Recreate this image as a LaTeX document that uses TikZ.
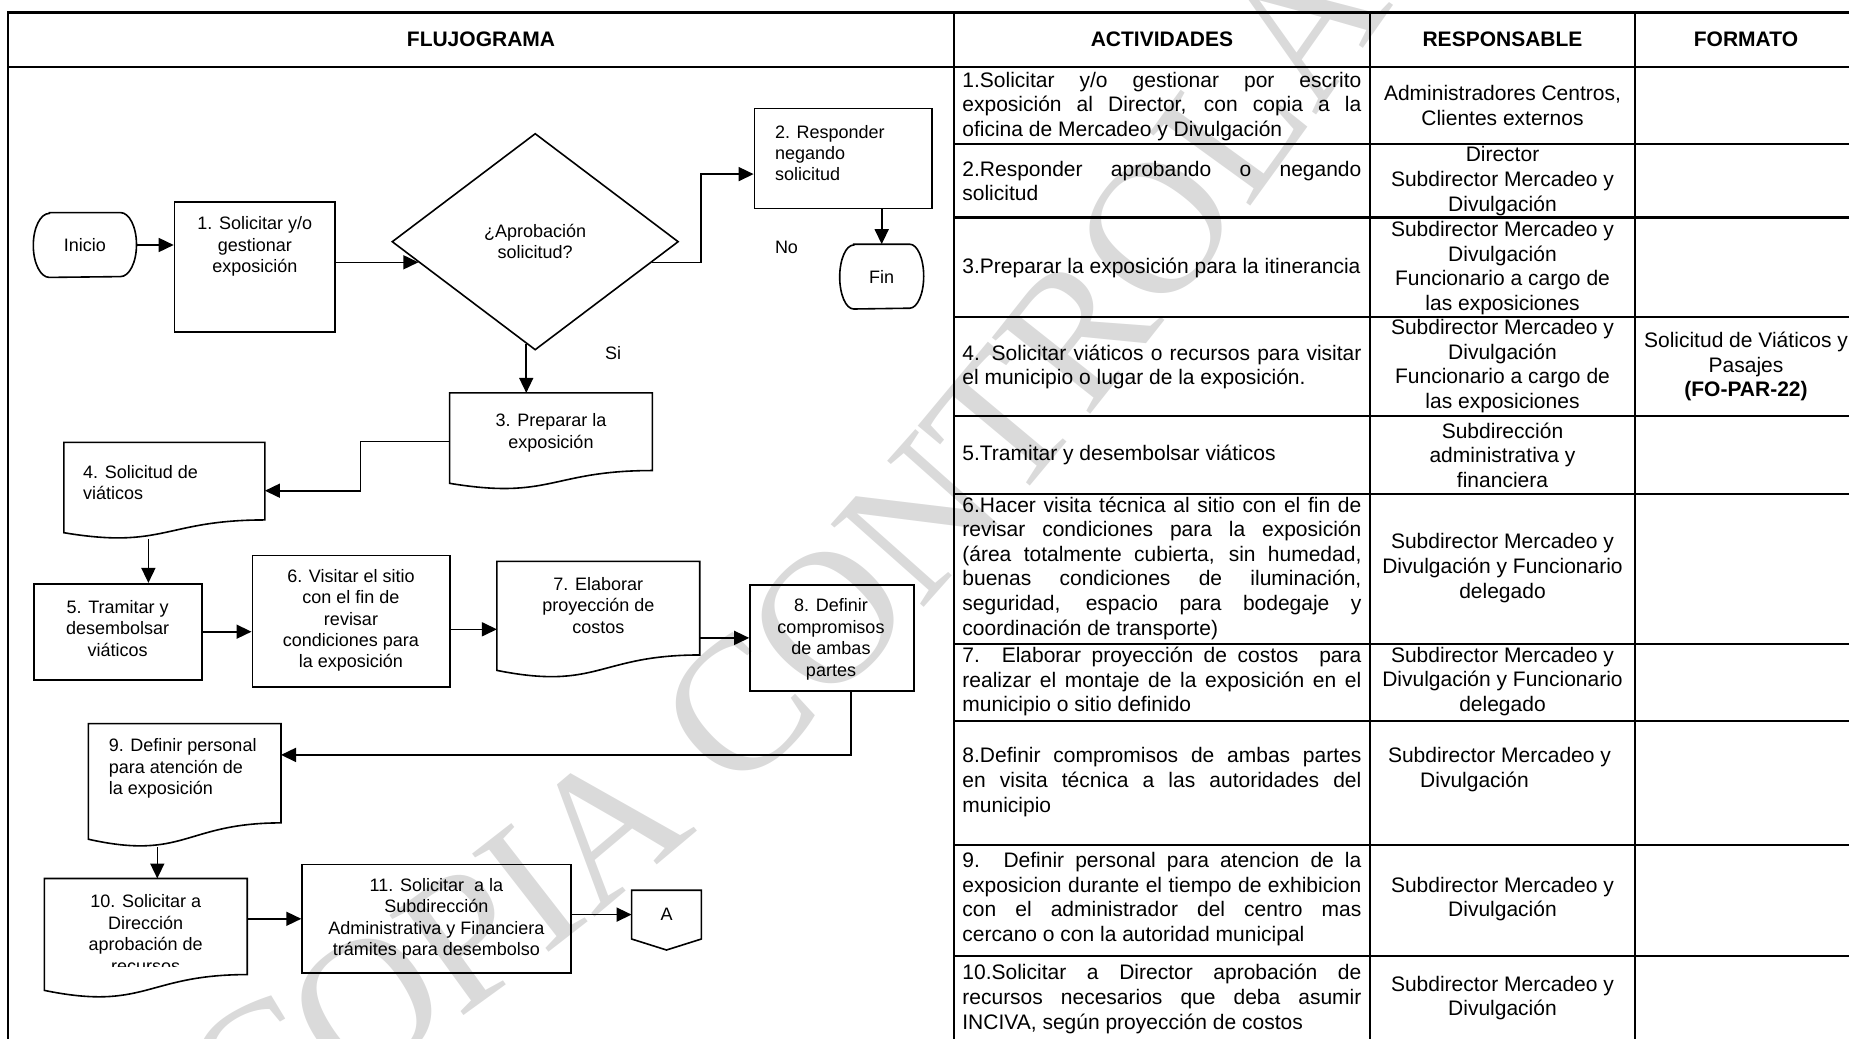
\documentclass[tikz,border=0pt]{standalone}
\usepackage{fontspec}
\setmainfont{Liberation Sans}
\newfontfamily\marcafont{Liberation Serif}
\usepackage{tikz}
\usetikzlibrary{shapes, arrows.meta, positioning, calc, decorations.text}
\definecolor{MarcaGris}{RGB}{218, 218, 218}
\tolerance=10000
\hbadness=10000
\hyphenpenalty=10000

\tikzset{
  tabla/.style={line width=1.1pt},
  encab/.style={font=\fontsize{10.5}{12.3}\selectfont\bfseries},
  activ/.style={font=\fontsize{10.5}{12.3}\selectfont, text width=199.5pt, align=justify, inner sep=0pt, anchor=west},
  resp/.style={font=\fontsize{10.5}{12.3}\selectfont, align=center, inner sep=0pt},
  caja/.style={draw, line width=0.8pt, inner sep=0pt},
  hueco/.style={inner sep=0pt, font=\fontsize{9}{10.7}\selectfont},
  txt/.style={font=\fontsize{9}{10.7}\selectfont, inner sep=0pt, align=center},
  flecha/.style={line width=0.8pt, -{Triangle[length=7.5pt,width=7pt]}},
}

\begin{document}
\begin{tikzpicture}[x=0.5pt, y=-0.5pt]
    \useasboundingbox (0,0) rectangle (1849,1039);
    \clip (0,0) rectangle (1849,1039);

    % Marca de agua
    \path[decorate, decoration={text along path, text align=center, text color=MarcaGris,
        text={|\marcafont\fontsize{95}{95}\selectfont|COPIA CONTROLADA}}]
        (150,1200) .. controls (800,880) and (1180,330) .. (1600,-300);

    % Tabla
    \draw[tabla] (8,12.5) rectangle (1857,1045);
    \draw[tabla] (8,67) -- (1857,67);
    \foreach \x in {954,1370,1635} \draw[tabla] (\x,12.5) -- (\x,1045);
    \foreach \y in {144,217.5,317,416,494,644,721,845,956} \draw[tabla] (954,\y) -- (1857,\y);

    % Encabezados
    \node[encab] (hflujo) at (481,39.5) {FLUJOGRAMA};
    \node[encab] (hactiv) at (1162,39.5) {ACTIVIDADES};
    \node[encab] (hresp) at (1502.5,39.5) {RESPONSABLE};
    \node[encab] (hform) at (1746,39.5) {FORMATO};

    % Actividades
    \node[activ] (a1) at (962,106.5) {1.Solicitar y/o gestionar por escrito\linebreak exposición al Director, con copia a la\linebreak oficina de Mercadeo y Divulgación};
    \node[activ] (a2) at (962,181) {2.Responder aprobando o negando\linebreak solicitud};
    \node[activ] (a3) at (962,268) {3.Preparar la exposición para la itinerancia};
    \node[activ] (a4) at (962,367) {4. Solicitar viáticos o recursos para visitar\linebreak el municipio o lugar de la exposición.};
    \node[activ] (a5) at (962,455) {5.Tramitar y desembolsar viáticos};
    \node[activ] (a6) at (962,568) {6.Hacer visita técnica al sitio con el fin de\linebreak revisar condiciones para la exposición\linebreak (área totalmente cubierta, sin humedad,\linebreak buenas condiciones de iluminación,\linebreak seguridad, espacio para bodegaje y\linebreak coordinación de transporte)};
    \node[activ] (a7) at (962,681.5) {7. Elaborar proyección de costos\ \ para\linebreak realizar el montaje de la exposición en el\linebreak municipio o sitio definido};
    \node[activ] (a8) at (962,782) {8.Definir compromisos de ambas partes\linebreak en visita técnica a las autoridades del\linebreak municipio};
    \node[activ] (a9) at (962,899) {9. Definir personal para atencion de la\linebreak exposicion durante el tiempo de exhibicion\linebreak con el administrador del centro mas\linebreak cercano o con la autoridad municipal};
    \node[activ] (a10) at (962,999) {10.Solicitar a Director aprobación de\linebreak recursos necesarios que deba asumir\linebreak INCIVA, según proyección de costos};

    % Responsables
    \node[resp] (r1) at (1502.5,105.5) {Administradores Centros,\\Clientes externos};
    \node[resp] (r2) at (1502.5,181) {Director\\Subdirector Mercadeo y\\Divulgación};
    \node[resp] (r3) at (1502.5,268) {Subdirector Mercadeo y\\Divulgación\\Funcionario a cargo de\\las exposiciones};
    \node[resp] (r4) at (1502.5,366) {Subdirector Mercadeo y\\Divulgación\\Funcionario a cargo de\\las exposiciones};
    \node[resp] (r5) at (1502.5,455) {Subdirección\\administrativa y\\financiera};
    \node[resp] (r6) at (1502.5,568) {Subdirector Mercadeo y\\Divulgación y Funcionario\\delegado};
    \node[resp] (r7) at (1502.5,681.5) {Subdirector Mercadeo y\\Divulgación y Funcionario\\delegado};
    \node[resp] (r8) at (1499.5,769.5) {Subdirector Mercadeo y\\Divulgación\hspace*{25pt}};
    \node[resp] (r9) at (1502.5,899) {Subdirector Mercadeo y\\Divulgación};
    \node[resp] (r10) at (1502.5,998) {Subdirector Mercadeo y\\Divulgación};

    % Formato
    \node[resp] (f4) at (1746,366.5) {Solicitud de Viáticos y\\Pasajes\\\textbf{(FO-PAR-22)}};

    % Flujograma
    \node[hueco, minimum width=51.2pt, minimum height=32pt] (ini) at (84.9,245) {Inicio};
    \node[caja, minimum width=80.3pt, minimum height=65pt] (b1) at (254.8,266.7) {};
    \node[txt] (b1t) at (254.8,246.5) {1. Solicitar y/o\\gestionar\\exposición};
    \node[draw, line width=0.8pt, diamond, txt, minimum width=143.25pt, minimum height=108.3pt] (dia) at (535.2,241.7) {¿Aprobación\\solicitud?};
    \node[caja, minimum width=88.8pt, minimum height=50pt] (b2) at (843.2,158.3) {};
    \node[txt, align=left, anchor=west] (b2t) at (774.6,153) {2. Responder\\negando\\solicitud};
    \node[hueco, minimum width=41.6pt, minimum height=32pt] (fin) at (881.7,276.6) {Fin};
    \node[txt] (no) at (786.5,247) {No};
    \node[txt] (si) at (613,353.5) {Si};

    \node[hueco, minimum width=101pt, minimum height=48pt] (b3) at (551,441.3) {};
    \node[txt] (b3t) at (551,433) {3. Preparar la\\exposición};
    \node[hueco, minimum width=100.1pt, minimum height=48pt] (b4) at (164.4,490.7) {};
    \node[txt, align=left, anchor=west] (b4t) at (82.7,482.7) {4. Solicitud de\\viáticos};
    \node[caja, minimum width=84.2pt, minimum height=48pt] (b5) at (117.9,631.7) {};
    \node[txt] (b5t) at (117.6,628.3) {5. Tramitar y\\desembolsar\\viáticos};
    \node[caja, minimum width=98.9pt, minimum height=65.7pt] (b6) at (351.2,621) {};
    \node[txt] (b6t) at (351,620.5) {6. Visitar el sitio\\con el fin de\\revisar\\condiciones para\\la exposición};
    \node[hueco, minimum width=101pt, minimum height=58pt] (b7) at (598.3,619.7) {};
    \node[txt] (b7t) at (598.3,605.5) {7. Elaborar\\proyección de\\costos};
    \node[caja, minimum width=81.9pt, minimum height=52.9pt] (b8) at (831.9,637.9) {};
    \node[txt] (b8t) at (831,639.4) {8. Definir\\compromisos\\de ambas\\partes};

    \node[hueco, minimum width=95.9pt, minimum height=61.5pt] (b9) at (184.7,785.5) {};
    \node[txt, align=left, anchor=west] (b9t) at (108.4,768.7) {9. Definir personal\\para atención de\\la exposición};
    \node[hueco, minimum width=101pt, minimum height=59.5pt] (b10) at (145.8,938.4) {};
    \begin{scope}
      \clip (40,870) rectangle (250,966.5);
      \node[txt] (b10t) at (145.7,933.5) {10. Solicitar a\\Dirección\\aprobación de\\recursos};
    \end{scope}
    \node[caja, minimum width=134.3pt, minimum height=54.2pt] (b11) at (436.4,918.8) {};
    \node[txt] (b11t) at (436.4,918.7) {11. Solicitar\ \ a la\\Subdirección\\Administrativa y Financiera\\trámites para desembolso};
    \node[hueco, minimum width=34.5pt, minimum height=24pt] (A) at (666.5,914.6) {A};

    % Formas de documento
    \foreach \n in {b3,b4,b7,b9,b10}
      \draw[line width=0.8pt] (\n.north west) -- (\n.north east)
        -- ($(\n.north east)!0.802!(\n.south east)$)
        .. controls ($(\n.north)!0.802!(\n.south)$) and ($(\n.north)!1.108!(\n.south)$)
        .. ($(\n.north west)!0.934!(\n.south west)$) -- cycle;

    % Terminales
    \foreach \n/\r in {ini/8pt,fin/7pt}
      \draw[line width=0.8pt] ([xshift=\r]\n.north west) -- ([xshift=-\r]\n.north east)
        arc[start angle=90, end angle=-90, x radius=\r, y radius=16pt]
        -- ([xshift=\r]\n.south west)
        arc[start angle=270, end angle=90, x radius=\r, y radius=16pt] -- cycle;

    % Conector A
    \draw[line width=0.8pt] (A.north west) -- (A.north east) -- (A.south east)
      -- ($(A.south)+(0,11)$) -- (A.south west) -- cycle;

    % Flechas
    \draw[flecha] (ini.east) -- (ini.east -| b1.west);
    \draw[flecha] (b1.east |- dia.190) -- (dia.190);
    \draw[flecha] (dia.350) -- ++(49,0) |- (b2.190);
    \draw[flecha] (fin.north |- b2.south) -- (fin.north);
    \draw[flecha] (dia.265) -- (dia.265 |- b3.north);
    \draw[flecha] (b3.west) -- ++(-89,0) |- (b4.east);
    \draw[flecha] ([xshift=-8pt]b4.south) -- ([xshift=-8pt]b4.south |- b5.north);
    \draw[flecha] (b5.east) -- (b5.east -| b6.west);
    \draw[flecha] ([yshift=-4.15pt]b6.east) -- ([yshift=-4.15pt]b6.east -| b7.west);
    \draw[flecha] (b7.east |- b8.west) -- (b8.west);
    \draw[flecha] ([xshift=9.5pt]b8.south) |- ([yshift=15.3pt]b9.east);
    \draw[flecha] ([xshift=-13.7pt]b9.south) -- ([xshift=-13.7pt]b9.south |- b10.north);
    \draw[flecha] (b10.east |- b11.west) -- (b11.west);
    \draw[flecha] (b11.east |- A.west) -- (A.west);
  \end{tikzpicture}
\end{document}
